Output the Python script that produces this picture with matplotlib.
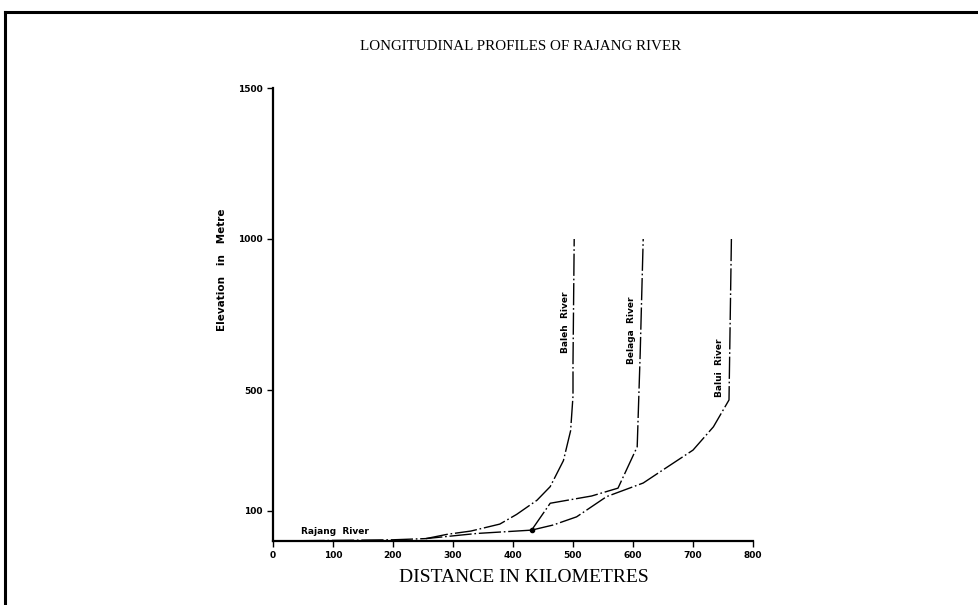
import numpy as np
import matplotlib.pyplot as plt
from matplotlib.lines import Line2D

# distance (km) / elevation (m)
rajang_km = [0, 100, 200, 255, 290, 340, 431]
rajang_m = [0, 2, 4, 8, 15, 25, 36]

baleh_km = [255, 290, 330, 378, 406, 440, 462, 484, 496, 500, 500, 502]
baleh_m = [8, 22, 33, 56, 88, 135, 180, 266, 365, 480, 590, 1000]

belaga_km = [431, 462, 531, 575, 607, 612, 617]
belaga_m = [36, 125, 149, 175, 312, 622, 1000]

balui_km = [431, 467, 506, 556, 617, 642, 700, 734, 760, 764]
balui_m = [36, 53, 80, 147, 192, 225, 301, 378, 467, 1000]

x_ticks = [0, 100, 200, 300, 400, 500, 600, 700, 800]
y_ticks = [100, 500, 1000, 1500]

fig = plt.figure(figsize=(9.79, 6.05), dpi=100)
ax = fig.add_axes([273 / 979, 1 - 541 / 605, 480 / 979, 453 / 605])

dash = (0, (16, 2, 1.2, 2))
for xs, ys in [(rajang_km, rajang_m), (baleh_km, baleh_m),
               (belaga_km, belaga_m), (balui_km, balui_m)]:
    ax.plot(xs, ys, color='black', lw=1.0, linestyle=dash)

# junction dot
ax.plot([rajang_km[-1]], [rajang_m[-1]], 'o', color='black', ms=3)

lab = dict(fontsize=6.5, fontweight='bold', color='black', family='DejaVu Sans')
ax.text(488, 725, "Baleh  River", rotation=90, ha='center', va='center', **lab)
ax.text(598, 699, "Belaga  River", rotation=90, ha='center', va='center', **lab)
ax.text(745, 573, "Balui  River", rotation=90, ha='center', va='center', **lab)
ax.text(103, 32, "Rajang  River", ha='center', va='center', **lab)

ax.set_xlim(0, 800)
ax.set_ylim(0, 1500)
ax.set_xticks(x_ticks)
ax.set_yticks(y_ticks)
ax.tick_params(axis='both', labelsize=6.5, width=1, color='black', length=4)
for t in ax.get_xticklabels() + ax.get_yticklabels():
    t.set_fontweight('bold')
for s in ['top', 'right']:
    ax.spines[s].set_visible(False)
for s in ['left', 'bottom']:
    ax.spines[s].set_linewidth(1.6)

ax.set_ylabel("Elevation   in   Metre", fontsize=7.5, fontweight='bold')
ax.yaxis.set_label_coords(-0.095, 0.598)
ax.set_xlabel("DISTANCE IN KILOMETRES", fontsize=14, family='Liberation Serif')
ax.xaxis.set_label_coords(0.523, -0.062)

fig.text(0.532, 1 - 46 / 605, "LONGITUDINAL PROFILES OF RAJANG RIVER",
         ha='center', va='center', fontsize=10.8, family='Liberation Serif')

# outer frame (top and left edges of the scanned page)
fig.add_artist(Line2D([5 / 979, 1], [1 - 12 / 605, 1 - 12 / 605], transform=fig.transFigure,
                      color='black', lw=2.2))
fig.add_artist(Line2D([5 / 979, 5 / 979], [0, 1 - 12 / 605], transform=fig.transFigure,
                      color='black', lw=2.2))

fig.savefig('out.png', dpi=100, facecolor='white')
